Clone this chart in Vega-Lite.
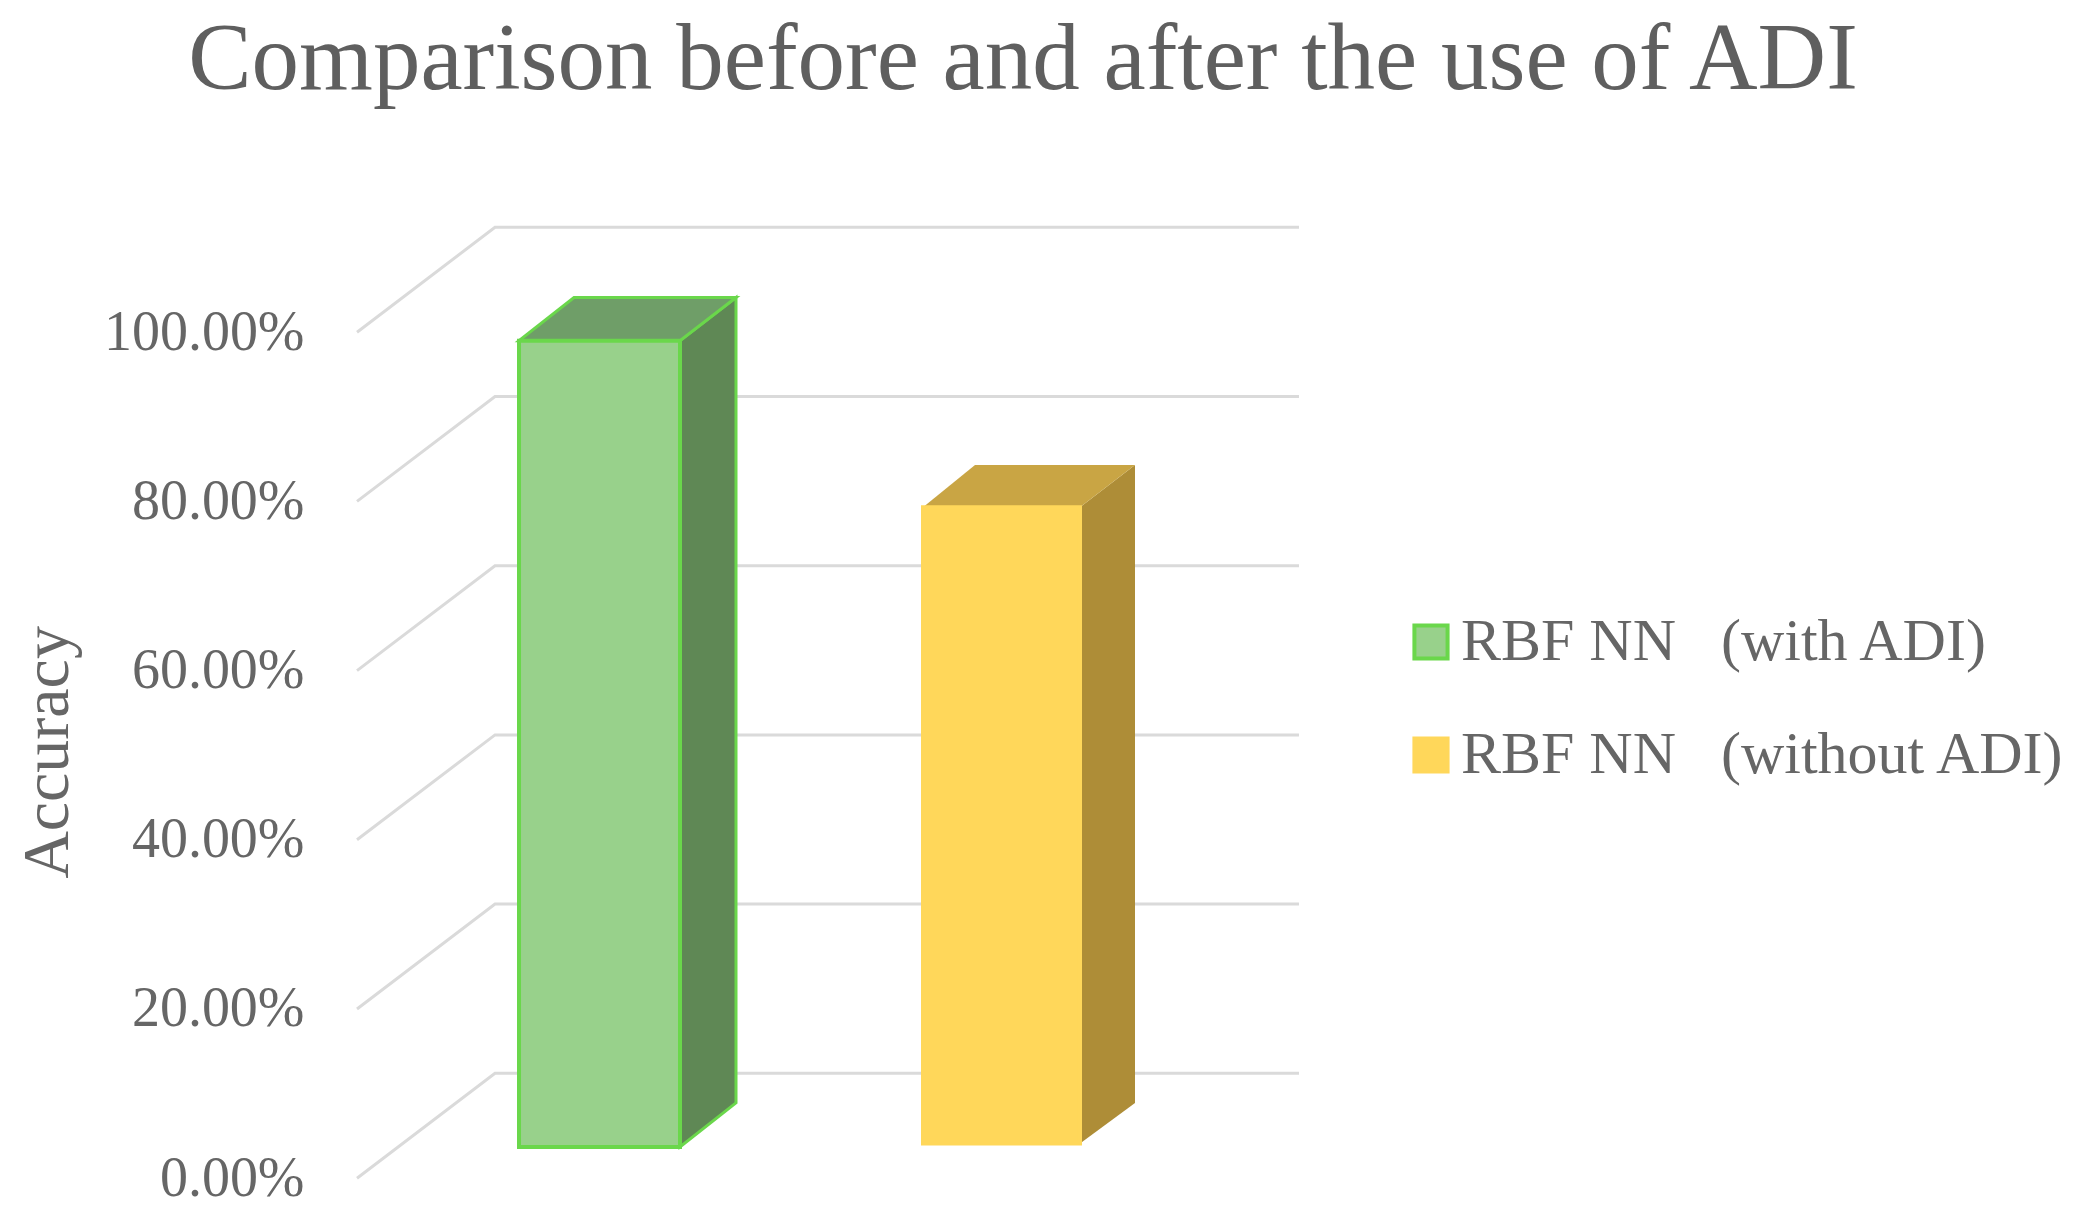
{
"$schema":"https://vega.github.io/schema/vega-lite/v6.json",
"width":1000,"height":1015.2,
"autosize":"none",
"padding":{"left":320,"top":163,"right":765,"bottom":40},
"background":"white",
"title":{"text":"Comparison before and after the use of ADI","anchor":"middle","frame":"group","dx":203,"offset":54,"font":"Liberation Serif","fontSize":95,"fontWeight":"normal","color":"#5f5f5f","limit":1900},
"datasets":{
"grid":[
{"level":0,"x":0.37,"y":0},{"level":0,"x":1.75,"y":0.124},{"level":0,"x":9.79,"y":0.124},
{"level":0.2,"x":0.37,"y":0.2},{"level":0.2,"x":1.75,"y":0.324},{"level":0.2,"x":9.79,"y":0.324},
{"level":0.4,"x":0.37,"y":0.4},{"level":0.4,"x":1.75,"y":0.524},{"level":0.4,"x":9.79,"y":0.524},
{"level":0.6,"x":0.37,"y":0.6},{"level":0.6,"x":1.75,"y":0.724},{"level":0.6,"x":9.79,"y":0.724},
{"level":0.8,"x":0.37,"y":0.8},{"level":0.8,"x":1.75,"y":0.924},{"level":0.8,"x":9.79,"y":0.924},
{"level":1,"x":0.37,"y":1},{"level":1,"x":1.75,"y":1.124},{"level":1,"x":9.79,"y":1.124}
],
"faces":[
{"part":"with side","group":"with","x":3.6,"y":0.99,"y2":0.037},
{"part":"with side","group":"with","x":4.16,"y":1.041,"y2":0.089},
{"part":"with top","group":"with","x":1.99,"y":0.99,"y2":0.99},
{"part":"with top","group":"with","x":2.54,"y":1.041,"y2":0.99},
{"part":"with top","group":"with","x":3.6,"y":1.041,"y2":0.99},
{"part":"with top","group":"with","x":4.16,"y":1.041,"y2":1.041},
{"part":"without side","group":"without","x":7.6,"y":0.793,"y2":0.041},
{"part":"without side","group":"without","x":8.15,"y":0.843,"y2":0.089},
{"part":"without top","group":"without","x":6.03,"y":0.793,"y2":0.793},
{"part":"without top","group":"without","x":6.55,"y":0.843,"y2":0.793},
{"part":"without top","group":"without","x":7.6,"y":0.843,"y2":0.793},
{"part":"without top","group":"without","x":8.15,"y":0.843,"y2":0.843}
],
"front":[
{"series":"RBF NN\u00a0\u00a0\u00a0(with ADI)","x":1.99,"x2":3.6,"y":0.99,"y2":0.037},
{"series":"RBF NN\u00a0\u00a0\u00a0(without ADI)","x":6.03,"x2":7.6,"y":0.793,"y2":0.041}
]
},
"encoding":{
"x":{"field":"x","type":"quantitative","scale":{"domain":[0,10],"nice":false},"axis":null},
"y":{"field":"y","type":"quantitative","stack":null,"scale":{"domain":[0,1.2],"nice":false},
"axis":{"values":[0,0.2,0.4,0.6,0.8,1],"format":".2%","grid":false,"domain":false,"ticks":false,"labelPadding":16,"labelFont":"Liberation Serif","labelFontSize":56,"labelColor":"#666666","labelOverlap":false,"labelBaseline":"middle","labelFlush":false,"labelLimit":400,"title":"Accuracy","titleFont":"Liberation Serif","titleFontSize":66,"titleFontWeight":"normal","titleColor":"#666666","titleX":-273,"titleY":589,"titleAlign":"center","titleBaseline":"middle","titleAngle":-90}}
},
"layer":[
{"data":{"name":"grid"},"mark":{"type":"line","color":"#dadada","strokeWidth":3},"encoding":{"detail":{"field":"level","type":"nominal"}}},
{"data":{"name":"faces"},"transform":[{"filter":"datum.group === 'without'"}],
"mark":{"type":"area","orient":"vertical","line":false},
"encoding":{"y2":{"field":"y2"},"color":{"field":"part","type":"nominal","legend":null,"scale":{"domain":["with side","with top","without side","without top"],"range":["#5f8855","#6f9e68","#ae8d37","#c9a544"]}}}},
{"data":{"name":"faces"},"transform":[{"filter":"datum.group === 'with'"}],
"mark":{"type":"area","orient":"vertical","line":false,"stroke":"#6ad74b","strokeWidth":3},
"encoding":{"y2":{"field":"y2"},"color":{"field":"part","type":"nominal","legend":null,"scale":{"domain":["with side","with top","without side","without top"],"range":["#5f8855","#6f9e68","#ae8d37","#c9a544"]}}}},
{"data":{"name":"front"},"mark":{"type":"rect","strokeWidth":4},
"encoding":{"x2":{"field":"x2"},"y2":{"field":"y2"},
"fill":{"field":"series","type":"nominal","scale":{"domain":["RBF NN\u00a0\u00a0\u00a0(with ADI)","RBF NN\u00a0\u00a0\u00a0(without ADI)"],"range":["#98d18b","#ffd75a"]},
"legend":{"title":null,"orient":"none","legendX":1081,"legendY":449,"symbolType":"square","symbolSize":1100,"symbolStrokeWidth":4,"labelFont":"Liberation Serif","labelFontSize":60,"labelColor":"#666666","labelLimit":1000,"labelOffset":0,"rowPadding":53}},
"stroke":{"field":"series","type":"nominal","scale":{"domain":["RBF NN\u00a0\u00a0\u00a0(with ADI)","RBF NN\u00a0\u00a0\u00a0(without ADI)"],"range":["#6ad74b","#ffd75a"]},
"legend":{"title":null,"orient":"none","legendX":1081,"legendY":449,"symbolType":"square","symbolSize":1100,"symbolStrokeWidth":4,"labelFont":"Liberation Serif","labelFontSize":60,"labelColor":"#666666","labelLimit":1000,"labelOffset":0,"rowPadding":53}}}}
],
"resolve":{"scale":{"color":"shared"}},
"config":{"view":{"stroke":null}}
}
